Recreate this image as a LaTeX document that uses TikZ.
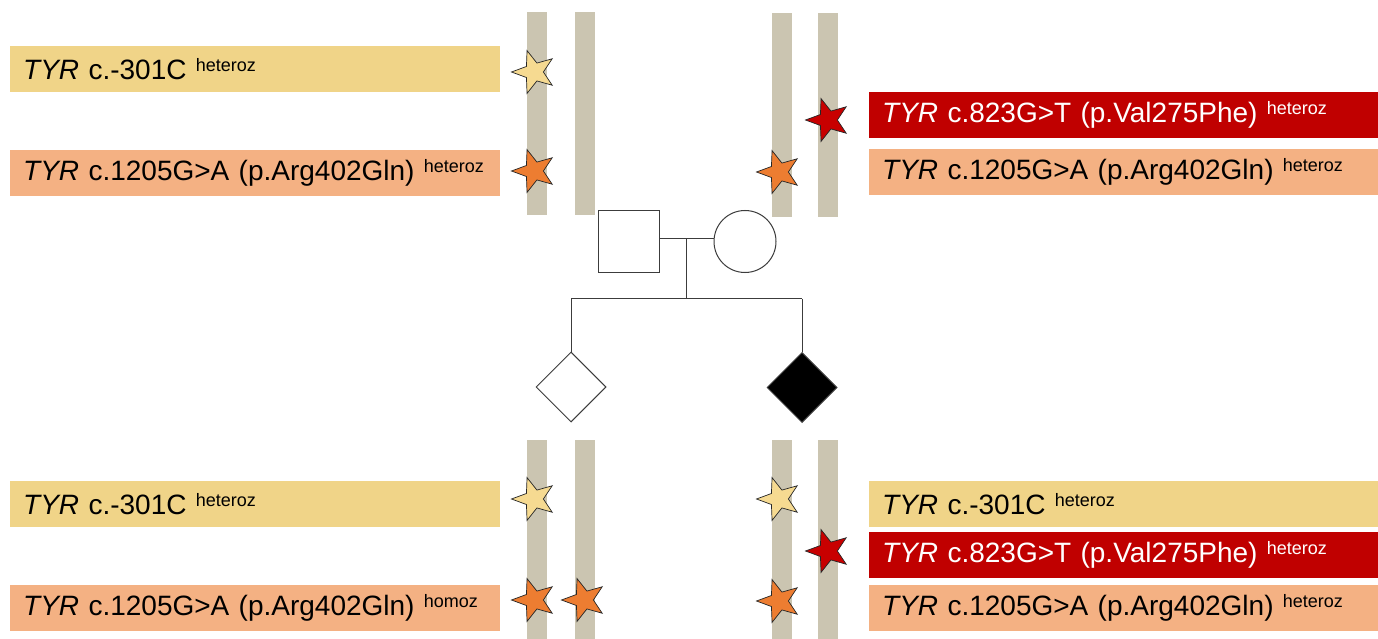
\documentclass[tikz,border=0pt]{standalone}
\usepackage{fontspec}
\setmainfont{Liberation Sans}
\usetikzlibrary{shapes.geometric}
\definecolor{barc}{RGB}{203,197,177}
\definecolor{ylw}{RGB}{240,212,136}
\definecolor{org}{RGB}{244,177,131}
\definecolor{redc}{RGB}{192,0,0}
\definecolor{ystar}{RGB}{246,218,145}
\definecolor{ostar}{RGB}{237,125,49}
\definecolor{rstar}{RGB}{200,0,0}
\definecolor{pedc}{RGB}{60,60,60}
\newcommand{\zyg}[1]{\raisebox{8pt}{\fontsize{18}{18}\selectfont #1}}
\tikzset{
  lblL/.style={anchor=north west, inner xsep=13pt, inner ysep=0pt, minimum height=46pt,
    text width=464pt, align=left, font=\fontsize{28}{32}\selectfont},
  lblR/.style={lblL, text width=483pt},
  mystar/.style={star, star points=5, star point ratio=2.4, shape border rotate=90,
    minimum size=45pt, inner sep=0pt, draw=black!85, line width=0.7pt},
  ped/.style={draw=pedc, line width=1pt, fill=white, inner sep=0pt},
  pline/.style={draw=pedc, line width=1pt},
}
\begin{document}
\begin{tikzpicture}[x=1pt,y=-1pt]
\useasboundingbox (0,0) rectangle (1378,639);
\fill[white] (0,0) rectangle (1378,639);
% chromosome bars
\fill[barc] (527,12) rectangle (547,215);
\fill[barc] (575,12) rectangle (595,215);
\fill[barc] (772,13) rectangle (792,217);
\fill[barc] (818,13) rectangle (838,217);
\fill[barc] (527,440) rectangle (547,639);
\fill[barc] (575,440) rectangle (595,639);
\fill[barc] (772,440) rectangle (792,639);
\fill[barc] (818,440) rectangle (838,639);
% top-left labels
\node[lblL, fill=ylw] (tl1) at (10,46) {\textit{TYR} c.-301C \zyg{heteroz}};
\node[lblL, fill=org] (tl2) at (10,150) {\textit{TYR} c.1205G>A (p.Arg402Gln) \zyg{heteroz}};
% top-right labels
\node[lblR, fill=redc, text=white] (tr1) at (869,92) {\textit{TYR} c.823G>T (p.Val275Phe) \zyg{heteroz}};
\node[lblR, fill=org] (tr2) at (869,149) {\textit{TYR} c.1205G>A (p.Arg402Gln) \zyg{heteroz}};
% bottom-left labels
\node[lblL, fill=ylw] (bl1) at (10,481) {\textit{TYR} c.-301C \zyg{heteroz}};
\node[lblL, fill=org] (bl2) at (10,585) {\textit{TYR} c.1205G>A (p.Arg402Gln) \zyg{homoz}};
% bottom-right labels
\node[lblR, fill=ylw] (br1) at (869,481) {\textit{TYR} c.-301C \zyg{heteroz}};
\node[lblR, fill=redc, text=white] (br2) at (869,532) {\textit{TYR} c.823G>T (p.Val275Phe) \zyg{heteroz}};
\node[lblR, fill=org] (br3) at (869,585) {\textit{TYR} c.1205G>A (p.Arg402Gln) \zyg{heteroz}};
% stars
\node[mystar, fill=ystar] (s1) at (534,72) {};
\node[mystar, fill=ostar] (s2) at (534,171) {};
\node[mystar, fill=rstar] (s3) at (828,120) {};
\node[mystar, fill=ostar] (s4) at (779,172) {};
\node[mystar, fill=ystar] (s5) at (534,499) {};
\node[mystar, fill=ostar] (s6) at (534,600) {};
\node[mystar, fill=ostar] (s7) at (584,600) {};
\node[mystar, fill=ystar] (s8) at (779,499) {};
\node[mystar, fill=rstar] (s9) at (828,551) {};
\node[mystar, fill=ostar] (s10) at (779,601) {};
% pedigree
\node[ped, rectangle, minimum size=61pt] (sq) at (629,241.5) {};
\node[ped, circle, minimum size=62pt] (ci) at (745,241.5) {};
\coordinate (m) at (686,238.5);
\coordinate (s) at (686,298.5);
\node[ped, diamond, minimum width=70pt, minimum height=70pt] (d1) at (571,387) {};
\node[ped, diamond, fill=black, minimum width=70pt, minimum height=70pt] (d2) at (802,387.5) {};
\draw[pline] (sq.east |- m) -- (ci.west |- m);
\draw[pline] (m) -- (s);
\draw[pline] (d1.north |- s) -- (d2.north |- s);
\draw[pline] (d1.north |- s) -- (d1.north);
\draw[pline] (d2.north |- s) -- (d2.north);
\end{tikzpicture}
\end{document}
